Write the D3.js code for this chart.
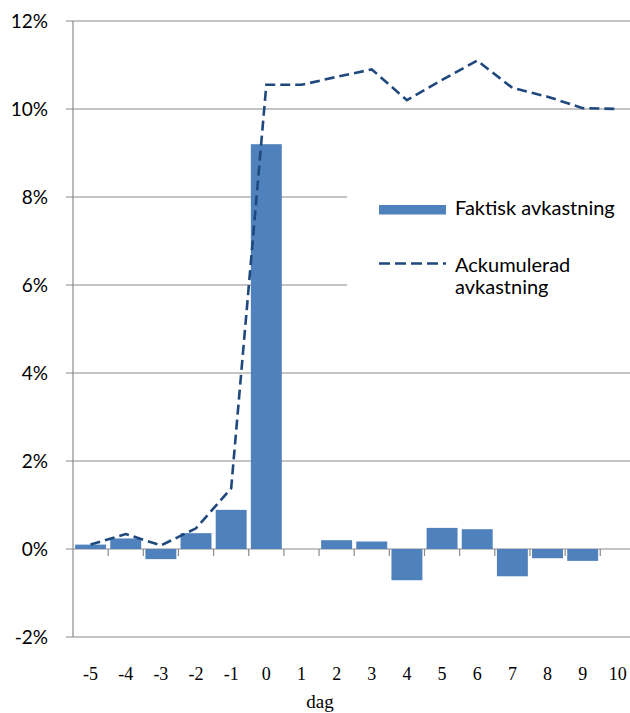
<!DOCTYPE html>
<html>
<head>
<meta charset="utf-8">
<script src="https://cdn.jsdelivr.net/npm/d3@7"></script>
<style>
  html, body { margin: 0; padding: 0; background: #fff; }
  svg { display: block; }
</style>
</head>
<body>
<svg id="chart" width="630" height="713"></svg>
<script>
// Event days relative to the announcement
const days = [-5, -4, -3, -2, -1, 0, 1, 2, 3, 4, 5, 6, 7, 8, 9, 10];
// Daily actual return (%)
const actualReturn = [0.10, 0.24, -0.23, 0.36, 0.89, 9.2, 0, 0.20, 0.17, -0.71, 0.48, 0.45, -0.62, -0.21, -0.27, 0];
// Cumulative return (%)
const cumulativeReturn = [0.10, 0.34, 0.08, 0.47, 1.38, 10.55, 10.55, 10.73, 10.9, 10.2, 10.66, 11.1, 10.48, 10.28, 10.02, 10.0];
// Y axis ticks (%)
const yTicks = [-2, 0, 2, 4, 6, 8, 10, 12];

const seriesNames = ["Faktisk avkastning", "Ackumulerad avkastning"];

const svg = d3.select("#chart");
const plot = { left: 73, right: 635.4, top: 21, bottom: 637 };

const x = d3.scaleBand()
  .domain(days)
  .range([plot.left, plot.right])
  .paddingInner(0.12)
  .paddingOuter(0.06);

const y = d3.scaleLinear()
  .domain([-2, 12])
  .range([plot.bottom, plot.top]);

const gridColor = "#8a8a8a";
const barColor = "#4f81bd";
const lineColor = "#1f497d";
const sansFont = "Lato, 'Open Sans', sans-serif";
const serifFont = "'Liberation Serif', 'DejaVu Serif', serif";

// Horizontal gridlines
svg.append("g")
  .selectAll("line")
  .data(yTicks)
  .join("line")
  .attr("x1", plot.left - 7)
  .attr("x2", 640)
  .attr("y1", d => y(d))
  .attr("y2", d => y(d))
  .attr("stroke", gridColor)
  .attr("stroke-width", 1.2);

// Y axis labels
svg.append("g")
  .selectAll("text")
  .data(yTicks)
  .join("text")
  .attr("x", 48)
  .attr("y", d => y(d))
  .attr("dy", "0.36em")
  .attr("text-anchor", "end")
  .attr("font-family", sansFont)
  .attr("font-size", 19)
  .attr("fill", "#000")
  .text(d => d + "%");

// Vertical axis line
svg.append("line")
  .attr("x1", plot.left).attr("x2", plot.left)
  .attr("y1", plot.top).attr("y2", plot.bottom)
  .attr("stroke", gridColor)
  .attr("stroke-width", 1.2);

// Bars
svg.append("g")
  .selectAll("rect")
  .data(days.map((d, i) => ({ day: d, v: actualReturn[i] })))
  .join("rect")
  .attr("x", d => x(d.day))
  .attr("width", x.bandwidth())
  .attr("y", d => y(Math.max(0, d.v)))
  .attr("height", d => Math.abs(y(d.v) - y(0)))
  .attr("fill", barColor);

// Category boundary ticks on the zero line
const step = x.step();
svg.append("g")
  .selectAll("line")
  .data(days.slice(1))
  .join("line")
  .attr("x1", d => x(d) - step * x.paddingInner() / 2)
  .attr("x2", d => x(d) - step * x.paddingInner() / 2)
  .attr("y1", y(0))
  .attr("y2", y(0) + 7)
  .attr("stroke", gridColor)
  .attr("stroke-width", 1.2);

// Cumulative return line
const line = d3.line()
  .x((d, i) => x(days[i]) + x.bandwidth() / 2)
  .y(d => y(d));

svg.append("path")
  .datum(cumulativeReturn)
  .attr("d", line)
  .attr("fill", "none")
  .attr("stroke", lineColor)
  .attr("stroke-width", 2.6)
  .attr("stroke-dasharray", "10,5");

// X axis labels
svg.append("g")
  .selectAll("text")
  .data(days)
  .join("text")
  .attr("x", d => x(d) + x.bandwidth() / 2)
  .attr("y", 680)
  .attr("text-anchor", "middle")
  .attr("font-family", serifFont)
  .attr("font-size", 18)
  .attr("fill", "#000")
  .text(d => d);

svg.append("text")
  .attr("x", 320)
  .attr("y", 708)
  .attr("text-anchor", "middle")
  .attr("font-family", serifFont)
  .attr("font-size", 19)
  .attr("fill", "#000")
  .text("dag");

// Legend
const legend = svg.append("g");
legend.append("rect")
  .attr("x", 347).attr("y", 175)
  .attr("width", 290).attr("height", 135)
  .attr("fill", "#fff");

legend.append("rect")
  .attr("x", 379).attr("y", 205)
  .attr("width", 67).attr("height", 9.5)
  .attr("fill", barColor);

legend.append("text")
  .attr("x", 455).attr("y", 215)
  .attr("font-family", sansFont)
  .attr("font-size", 20)
  .attr("fill", "#000")
  .text(seriesNames[0]);

legend.append("line")
  .attr("x1", 379).attr("x2", 446)
  .attr("y1", 263.5).attr("y2", 263.5)
  .attr("stroke", lineColor)
  .attr("stroke-width", 2.6)
  .attr("stroke-dasharray", "11,5");

const legendText = legend.append("text")
  .attr("x", 455).attr("y", 271.5)
  .attr("font-family", sansFont)
  .attr("font-size", 20)
  .attr("fill", "#000");
legendText.append("tspan").attr("x", 455).text("Ackumulerad");
legendText.append("tspan").attr("x", 455).attr("dy", 22.5).text("avkastning");
</script>
</body>
</html>
